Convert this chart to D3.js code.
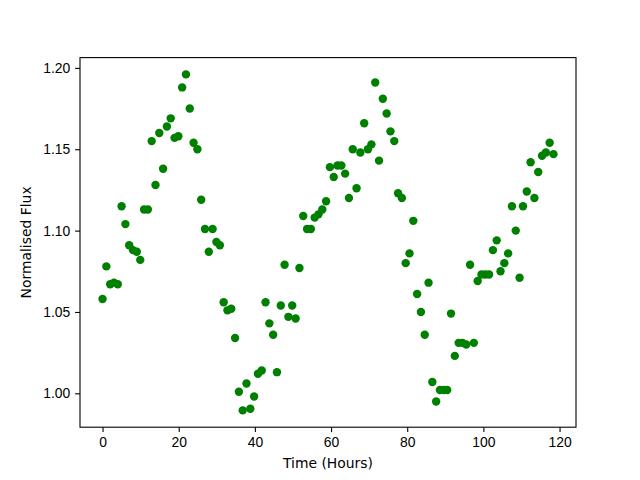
<!DOCTYPE html>
<html>
<head>
<meta charset="utf-8">
<script src="https://cdn.jsdelivr.net/npm/d3@7"></script>
<style>
    body { margin: 0; background: #fff; }
    svg { display: block; font-family: "DejaVu Sans", sans-serif; }
    .axis text { font-size: 13.9px; fill: #000; }
    .axis path, .axis line { stroke: #000; stroke-width: 1.1px; }
    .axis-label { font-size: 13.9px; fill: #000; }
</style>
</head>
<body>
<div id="chart"></div>
<script>
// time of each observation (hours)
const hours = [
    0.0, 1.0, 2.0, 3.0, 4.0, 5.0, 6.0, 7.0, 8.0, 9.0,
    9.9, 10.9, 11.9, 12.9, 13.9, 14.9, 15.9, 16.9, 17.9, 18.9,
    19.9, 20.9, 21.9, 22.9, 23.9, 24.9, 25.9, 26.9, 27.9, 28.9,
    29.9, 30.8, 31.8, 32.8, 33.8, 34.8, 35.8, 36.8, 37.8, 38.8,
    39.8, 40.8, 41.8, 42.8, 43.8, 44.8, 45.8, 46.8, 47.8, 48.8,
    49.8, 50.7, 51.7, 52.7, 53.7, 54.7, 55.7, 56.7, 57.7, 58.7,
    59.7, 60.7, 61.7, 62.7, 63.7, 64.7, 65.7, 66.7, 67.7, 68.7,
    69.7, 70.6, 71.6, 72.6, 73.6, 74.6, 75.6, 76.6, 77.6, 78.6,
    79.6, 80.6, 81.6, 82.6, 83.6, 84.6, 85.6, 86.6, 87.6, 88.6,
    89.6, 90.5, 91.5, 92.5, 93.5, 94.5, 95.5, 96.5, 97.5, 98.5,
    99.5, 100.5, 101.5, 102.5, 103.5, 104.5, 105.5, 106.5, 107.5, 108.5,
    109.5, 110.4, 111.4, 112.4, 113.4, 114.4, 115.4, 116.4, 117.4, 118.4
];

// normalised flux
const flux = [
    1.058, 1.078, 1.067, 1.068, 1.067, 1.115, 1.104, 1.091, 1.088, 1.087,
    1.082, 1.113, 1.113, 1.155, 1.128, 1.160, 1.138, 1.164, 1.169, 1.157,
    1.158, 1.188, 1.196, 1.175, 1.154, 1.150, 1.119, 1.101, 1.087, 1.101,
    1.093, 1.091, 1.056, 1.051, 1.052, 1.034, 1.001, 0.9895, 1.006, 0.9905,
    0.998, 1.012, 1.014, 1.056, 1.043, 1.036, 1.013, 1.054, 1.079, 1.047,
    1.054, 1.046, 1.077, 1.109, 1.101, 1.101, 1.108, 1.110, 1.113, 1.118,
    1.139, 1.133, 1.140, 1.140, 1.135, 1.120, 1.150, 1.126, 1.148, 1.166,
    1.150, 1.153, 1.191, 1.143, 1.181, 1.172, 1.161, 1.155, 1.123, 1.120,
    1.080, 1.086, 1.106, 1.061, 1.050, 1.036, 1.068, 1.007, 0.995, 1.002,
    1.002, 1.002, 1.049, 1.023, 1.031, 1.031, 1.030, 1.079, 1.031, 1.069,
    1.073, 1.073, 1.073, 1.088, 1.094, 1.075, 1.080, 1.086, 1.115, 1.100,
    1.071, 1.115, 1.124, 1.142, 1.120, 1.136, 1.146, 1.148, 1.154, 1.147
];

const xTicks = [0, 20, 40, 60, 80, 100, 120];
const yTicks = [1.00, 1.05, 1.10, 1.15, 1.20];

// matplotlib-like axes box inside a 640x480 figure
const margin = {top: 57.6, right: 64, bottom: 52.8, left: 80};
const width = 640 - margin.left - margin.right;
const height = 480 - margin.top - margin.bottom;

const data = hours.map((h, i) => ({t: h, f: flux[i]}));

// 5% padding on the data range, as matplotlib does
function padded(ext) {
    let p = (ext[1] - ext[0]) * 0.05;
    return [ext[0] - p, ext[1] + p];
}

const svg = d3.select("#chart").append("svg")
    .attr("width", 640)
    .attr("height", 480);

const g = svg.append("g")
    .attr("transform", `translate(${margin.left}, ${margin.top})`);

const x = d3.scaleLinear()
    .domain(padded(d3.extent(data, d => d.t)))
    .range([0, width]);

const y = d3.scaleLinear()
    .domain(padded(d3.extent(data, d => d.f)))
    .range([height, 0]);

// points
g.append("g")
    .selectAll("circle")
    .data(data)
    .enter()
    .append("circle")
    .attr("cx", d => x(d.t))
    .attr("cy", d => y(d.f))
    .attr("r", 4.2)
    .style("fill", "#008000");

// axes
const xAxis = d3.axisBottom(x)
    .tickValues(xTicks)
    .tickFormat(d3.format("d"))
    .tickSizeInner(4.9)
    .tickSizeOuter(0)
    .tickPadding(4.9);

const yAxis = d3.axisLeft(y)
    .tickValues(yTicks)
    .tickFormat(d3.format(".2f"))
    .tickSizeInner(4.9)
    .tickSizeOuter(0)
    .tickPadding(4.9);

g.append("g")
    .attr("class", "axis x-axis")
    .attr("transform", `translate(0, ${height})`)
    .call(xAxis)
    .call(a => a.select(".domain").remove());

g.append("g")
    .attr("class", "axis y-axis")
    .call(yAxis)
    .call(a => a.select(".domain").remove());

// frame
g.append("rect")
    .attr("width", width)
    .attr("height", height)
    .style("fill", "none")
    .style("stroke", "#000")
    .style("stroke-width", 1.1);

// axis labels
svg.append("text")
    .attr("class", "axis-label")
    .attr("x", margin.left + width / 2)
    .attr("y", 468)
    .attr("text-anchor", "middle")
    .text("Time (Hours)");

svg.append("text")
    .attr("class", "axis-label")
    .attr("transform", `translate(31, ${margin.top + height / 2}) rotate(-90)`)
    .attr("text-anchor", "middle")
    .text("Normalised Flux");
</script>
</body>
</html>
